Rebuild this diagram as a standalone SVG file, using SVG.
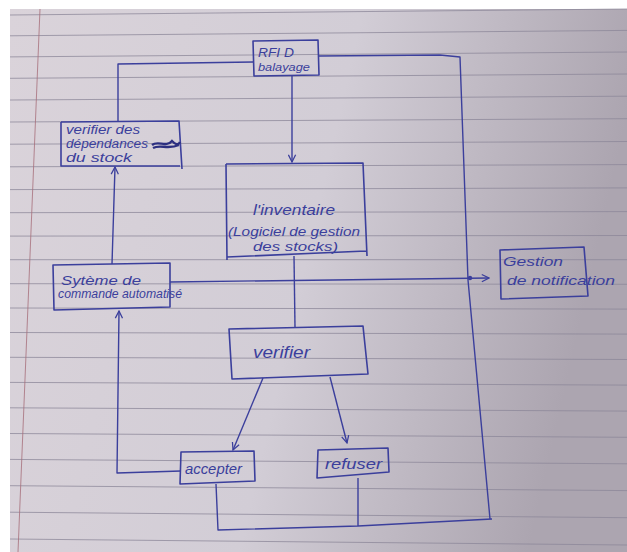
<svg xmlns="http://www.w3.org/2000/svg" width="627" height="552" viewBox="0 0 627 552">
<defs>
<linearGradient id="paper" x1="0" y1="0" x2="1" y2="0.2">
<stop offset="0" stop-color="#dad3da"/>
<stop offset="0.55" stop-color="#d2cdd6"/>
<stop offset="1" stop-color="#aca5b0"/>
</linearGradient>
<marker id="arr" viewBox="0 0 10 10" refX="9" refY="5" markerWidth="9" markerHeight="9" markerUnits="userSpaceOnUse" orient="auto">
<path d="M1,1 L9,5 L1,9" fill="none" stroke="#3b3f9c" stroke-width="1.4"/>
</marker>
</defs>
<style>
.rule{stroke:#8c8799;stroke-width:1;opacity:0.75}
.box{fill:none;stroke:#3b3f9c;stroke-width:1.6;stroke-linejoin:round}
.con{fill:none;stroke:#3b3f9c;stroke-width:1.4;stroke-linejoin:round}
.t{font-family:"Liberation Sans","DejaVu Sans",sans-serif;font-style:italic;fill:#3b3f9c}
</style>
<rect width="627" height="552" fill="#ffffff"/>
<rect x="10" y="9" width="617" height="543" fill="url(#paper)"/>
<g id="rules">
<line class="rule" x1="10" y1="15" x2="627" y2="9"/>
<line class="rule" x1="10" y1="35.8" x2="627" y2="30.4"/>
<line class="rule" x1="10" y1="56.9" x2="627" y2="52"/>
<line class="rule" x1="10" y1="78.3" x2="627" y2="74"/>
<line class="rule" x1="10" y1="100" x2="627" y2="96.2"/>
<line class="rule" x1="10" y1="122" x2="627" y2="118.7"/>
<line class="rule" x1="10" y1="144.2" x2="627" y2="141.5"/>
<line class="rule" x1="10" y1="166.8" x2="627" y2="164.6"/>
<line class="rule" x1="10" y1="189.6" x2="627" y2="187.9"/>
<line class="rule" x1="10" y1="212.7" x2="627" y2="211.6"/>
<line class="rule" x1="10" y1="236.1" x2="627" y2="235.5"/>
<line class="rule" x1="10" y1="259.7" x2="627" y2="259.7"/>
<line class="rule" x1="10" y1="283.7" x2="627" y2="284.3"/>
<line class="rule" x1="10" y1="308" x2="627" y2="309.1"/>
<line class="rule" x1="10" y1="332.5" x2="627" y2="334.1"/>
<line class="rule" x1="10" y1="357.3" x2="627" y2="359.5"/>
<line class="rule" x1="10" y1="382.4" x2="627" y2="385.1"/>
<line class="rule" x1="10" y1="407.8" x2="627" y2="411.1"/>
<line class="rule" x1="10" y1="433.5" x2="627" y2="437.3"/>
<line class="rule" x1="10" y1="459.4" x2="627" y2="463.8"/>
<line class="rule" x1="10" y1="485.7" x2="627" y2="490.6"/>
<line class="rule" x1="10" y1="512.2" x2="627" y2="517.7"/>
<line class="rule" x1="10" y1="539" x2="627" y2="545"/>
<line x1="40" y1="9" x2="18" y2="552" stroke="#a8707c" stroke-width="1" opacity="0.8"/>
</g>
<g id="connectors">
<path class="con" d="M292,76 L292,162" marker-end="url(#arr)"/>
<path class="con" d="M253,62 L118,64 L118,121"/>
<path class="con" d="M319,56 L440,55 L460,57 L468,280 L490,519"/>
<path class="con" d="M170,282 L489,278" marker-end="url(#arr)"/>
<circle cx="470" cy="278" r="2.2" fill="#3b3f9c"/>
<path class="con" d="M112,264 L115,167" marker-end="url(#arr)"/>
<path class="con" d="M294,256 L295,328"/>
<path class="con" d="M263,378 L233,450" marker-end="url(#arr)"/>
<path class="con" d="M330,377 L347,443" marker-end="url(#arr)"/>
<path class="con" d="M181,471 L117,473 L119,311" marker-end="url(#arr)"/>
<path class="con" d="M216,484 L218,530 L358,526 L492,519"/>
<path class="con" d="M358,478 L358,526"/>
</g>
<g id="rfid">
<path class="box" d="M253,41 L318,40 L319,75 L254,76 Z"/>
<text class="t" x="258" y="57" font-size="13" textLength="36" lengthAdjust="spacingAndGlyphs">RFI D</text>
<text class="t" x="258" y="71" font-size="11" textLength="52" lengthAdjust="spacingAndGlyphs">balayage</text>
</g>
<g id="dependances">
<path class="box" d="M61,122 L179,121 L182,169 M180,166 L61,166 L61,122"/>
<text class="t" x="66" y="134" font-size="12" textLength="74" lengthAdjust="spacingAndGlyphs">verifier des</text>
<text class="t" x="66" y="148" font-size="12" textLength="82" lengthAdjust="spacingAndGlyphs">dépendances</text>
<path d="M152,145 C158,140 166,148 172,141 C175,144 178,146 180,142 M153,148 C160,144 168,150 179,145" fill="none" stroke="#2c2f80" stroke-width="2.4"/>
<text class="t" x="66" y="162" font-size="12" textLength="66" lengthAdjust="spacingAndGlyphs">du stock</text>
</g>
<g id="inventaire">
<path class="box" d="M226,164 L363,163 L367,256 M366,251 L227,257 M226,164 L227,260"/>
<text class="t" x="253" y="215" font-size="15" textLength="82" lengthAdjust="spacingAndGlyphs">l'inventaire</text>
<text class="t" x="228" y="236" font-size="12.5" textLength="132" lengthAdjust="spacingAndGlyphs">(Logiciel de gestion</text>
<text class="t" x="253" y="251" font-size="12.5" textLength="85" lengthAdjust="spacingAndGlyphs">des stocks)</text>
</g>
<g id="systeme">
<path class="box" d="M53,265 L170,263 L170,307 L54,310 Z"/>
<text class="t" x="61" y="285" font-size="13" textLength="80" lengthAdjust="spacingAndGlyphs">Sytème de</text>
<text class="t" x="58" y="298" font-size="12" textLength="124" lengthAdjust="spacingAndGlyphs">commande automatisé</text>
</g>
<g id="notification">
<path class="box" d="M500,250 L584,247 L588,296 L501,299 Z"/>
<text class="t" x="503" y="266" font-size="13" textLength="60" lengthAdjust="spacingAndGlyphs">Gestion</text>
<text class="t" x="507" y="285" font-size="13" textLength="108" lengthAdjust="spacingAndGlyphs">de notification</text>
</g>
<g id="verifier">
<path class="box" d="M229,329 L363,326 L368,374 L232,379 Z"/>
<text class="t" x="253" y="358" font-size="17" textLength="57" lengthAdjust="spacingAndGlyphs">verifier</text>
</g>
<g id="accepter">
<path class="box" d="M181,452 L254,451 L255,481 L180,484 Z"/>
<text class="t" x="185" y="474" font-size="14" textLength="57" lengthAdjust="spacingAndGlyphs">accepter</text>
</g>
<g id="refuser">
<path class="box" d="M318,450 L388,448 L389,472 L317,478 Z"/>
<text class="t" x="325" y="469" font-size="15" textLength="57" lengthAdjust="spacingAndGlyphs">refuser</text>
</g>
</svg>
